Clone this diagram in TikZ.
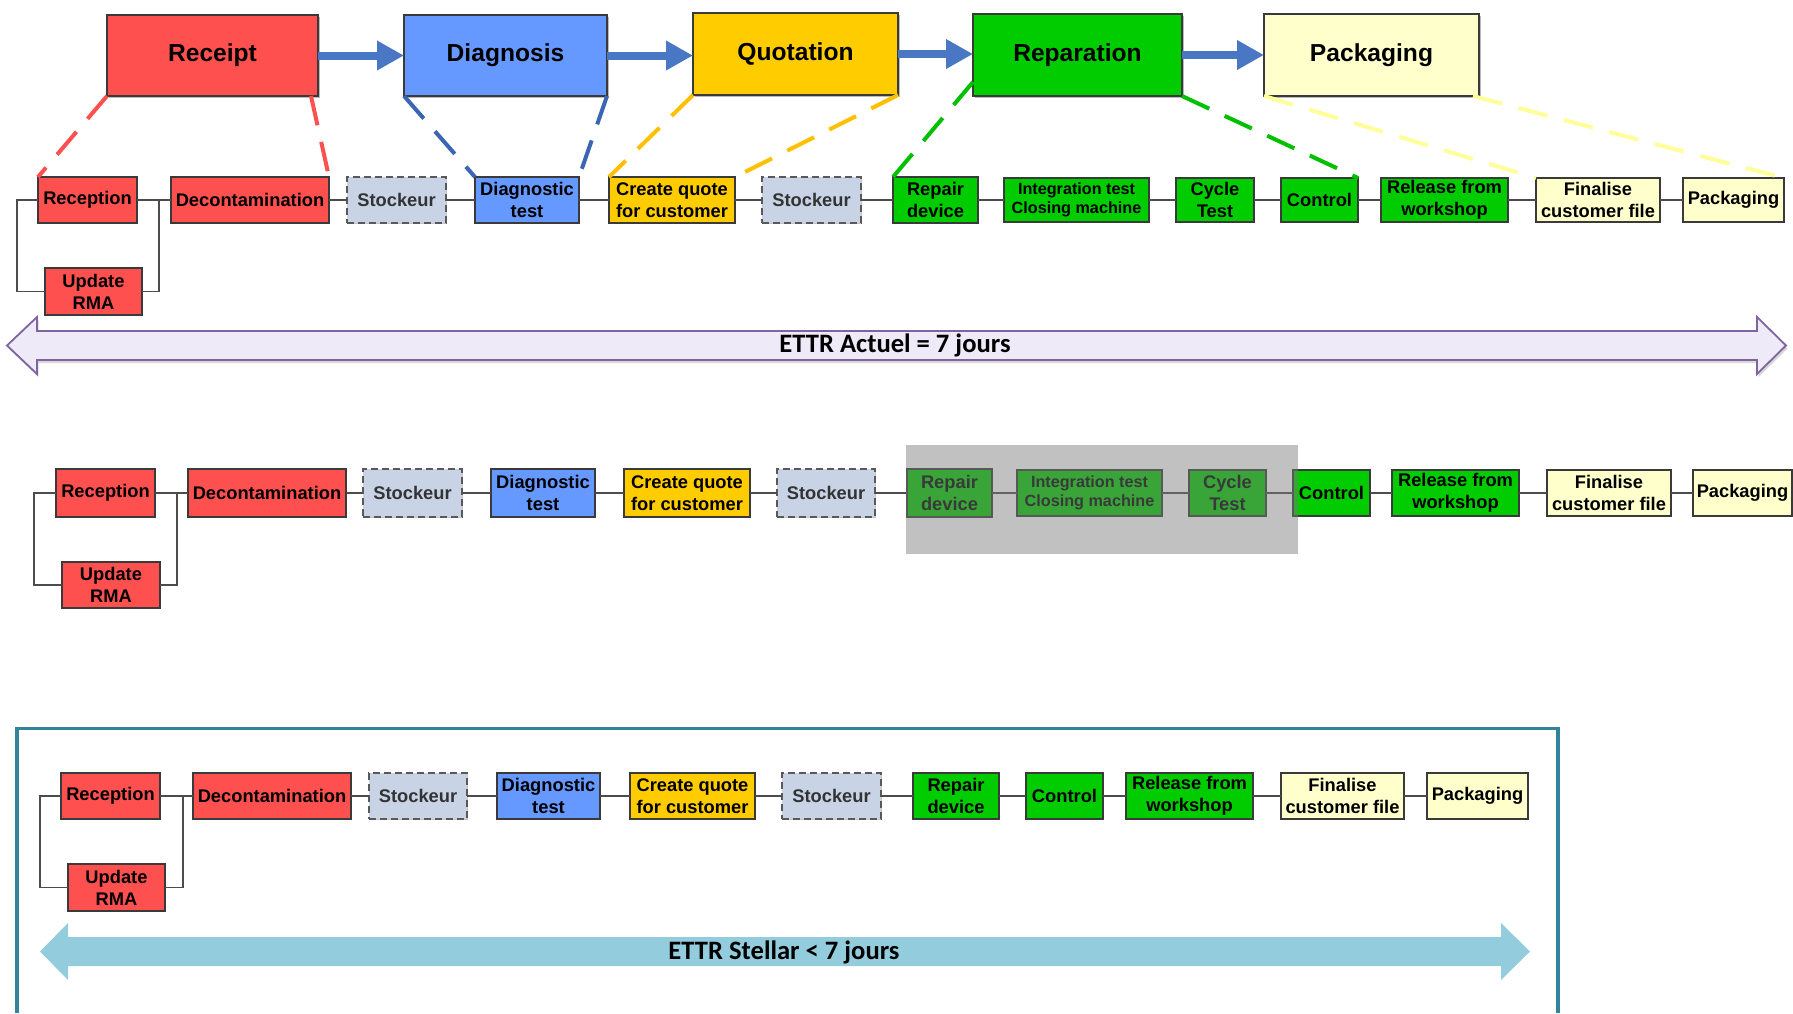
\documentclass[tikz,border=0pt]{standalone}
\usepackage{fontspec}
\setmainfont{Liberation Sans}
\newfontfamily\ettrfont{Carlito}
\usetikzlibrary{arrows.meta,calc,shadows}

\definecolor{cRed}{HTML}{FF5050}
\definecolor{cBlue}{HTML}{6699FF}
\definecolor{cGold}{HTML}{FFCC00}
\definecolor{cGreen}{HTML}{00CC00}
\definecolor{cCream}{HTML}{FFFFCC}
\definecolor{cStock}{HTML}{C8D4E6}
\definecolor{cEdge}{HTML}{3A3A3A}
\definecolor{cArrow}{HTML}{4A77C4}
\definecolor{lRed}{HTML}{FF5050}
\definecolor{lBlue}{HTML}{3A66B4}
\definecolor{lGold}{HTML}{FFC000}
\definecolor{lGreen}{HTML}{00C000}
\definecolor{lCream}{HTML}{FFFF99}
\definecolor{cLav}{HTML}{EFEAF7}
\definecolor{cPurple}{HTML}{8064A2}
\definecolor{cTeal}{HTML}{31849B}
\definecolor{cSky}{HTML}{93CDDD}
\definecolor{cVeil}{HTML}{7B7B7B}

% box given by its left, right, top and bottom edges (y grows downwards)
\newcommand\procbox[7]{%
  \node[#2, minimum width={(#4-#3)*1pt}, minimum height={(#6-#5)*1pt}]
    (#1) at ({(#3+#4)/2},{(#5+#6)/2}) {#7};}

\tikzset{
  phase/.style={draw=cEdge, line width=2pt, inner sep=0pt, outer sep=0pt,
    font=\fontsize{24.6}{28}\selectfont\bfseries,
    drop shadow={shadow xshift=1.5pt, shadow yshift=-1.5pt, fill=black!45, opacity=0.6}},
  task/.style={draw=cEdge, line width=1.6pt, inner sep=0pt, outer sep=0pt, align=center,
    font=\fontsize{18.3}{21.8}\selectfont\bfseries,
    drop shadow={shadow xshift=1.2pt, shadow yshift=-1.2pt, fill=black!45, opacity=0.5}},
  smalltask/.style={task, font=\fontsize{16.2}{19.5}\selectfont\bfseries},
  store/.style={task, fill=cStock, draw=black!65, dash pattern=on 7pt off 4pt, text=black!80},
  link/.style={draw=black!70, line width=1.6pt},
  tie/.style={line width=4pt, dash pattern=on 30pt off 17pt},
  flow/.style={draw=cArrow, line width=8pt, -{Triangle[length=27pt,width=28pt]}},
  ettr/.style={font=\ettrfont\fontsize{26.6}{30}\selectfont\bfseries, inner sep=0pt},
}

\begin{document}
\begin{tikzpicture}[x=1pt, y=-1pt]
\useasboundingbox (0,0) rectangle (1793,1013);

% ---------- phases ----------
\procbox{Receipt}{phase,fill=cRed}{107}{318}{15}{96}{Receipt}
\procbox{Diagnosis}{phase,fill=cBlue}{404}{607}{15}{96}{Diagnosis}
\procbox{Quotation}{phase,fill=cGold}{693}{898}{13}{95}{Quotation}
\procbox{Reparation}{phase,fill=cGreen}{973}{1182}{14}{96}{Reparation}
\procbox{Packaging}{phase,fill=cCream}{1264}{1479}{14}{96}{Packaging}

\draw[flow] (Receipt.east) -- (Diagnosis.west);
\draw[flow] (Diagnosis.east) -- (Quotation.west |- Diagnosis.east);
\draw[flow] (Quotation.east) -- (Reparation.west |- Quotation.east);
\draw[flow] (Reparation.east) -- (Packaging.west);

% ---------- current process ----------
\procbox{R1rec}{task,fill=cRed}{38}{137}{177}{223}{Reception}
\procbox{R1dec}{task,fill=cRed}{171}{329}{177}{223}{Decontamination}
\procbox{R1st1}{store}{347}{446}{177}{223}{Stockeur}
\procbox{R1dia}{task,fill=cBlue}{475}{579}{177}{223}{Diagnostic\\test}
\procbox{R1quo}{task,fill=cGold}{609}{735}{177}{223}{Create quote\\for customer}
\procbox{R1st2}{store}{762}{861}{177}{223}{Stockeur}
\procbox{R1rep}{task,fill=cGreen}{893}{978}{177}{223}{Repair\\device}
\procbox{R1int}{smalltask,fill=cGreen}{1004}{1149}{178}{222}{Integration test\\Closing machine}
\procbox{R1cyc}{task,fill=cGreen}{1176}{1254}{178}{222}{Cycle\\Test}
\procbox{R1con}{task,fill=cGreen}{1281}{1358}{178}{222}{Control}
\procbox{R1rel}{task,fill=cGreen}{1381}{1508}{178}{222}{Release from\\workshop}
\procbox{R1fin}{task,fill=cCream}{1536}{1660}{178}{222}{Finalise\\customer file}
\procbox{R1pac}{task,fill=cCream}{1683}{1784}{178}{222}{Packaging}
\procbox{R1upd}{task,fill=cRed}{45}{142}{268}{315}{Update\\RMA}

\draw[link] (R1rec.west) -- ++(-21,0) |- (R1upd.west);
\draw[link] (R1rec.east) -- (R1dec.west);
\draw[link] (R1upd.east) -| ($(R1dec.west)+(-12,0)$);
\foreach \a/\b in {R1dec/R1st1,R1st1/R1dia,R1dia/R1quo,R1quo/R1st2,R1st2/R1rep,
  R1rep/R1int,R1int/R1cyc,R1cyc/R1con,R1con/R1rel,R1rel/R1fin,R1fin/R1pac}
  \draw[link] (\a.east) -- (\b.west);

% phase-to-task ties
\draw[tie, lRed] (Receipt.south west) -- (R1rec.north west);
\draw[tie, lRed] ($(Receipt.south east)+(-7,0)$) -- (R1dec.north east);
\draw[tie, lBlue] (Diagnosis.south west) -- (R1dia.north west);
\draw[tie, lBlue] (Diagnosis.south east) -- (R1dia.north east);
\draw[tie, lGold] (Quotation.south west) -- (R1quo.north west);
\draw[tie, lGold] (Quotation.south east) -- (R1quo.north east);
\draw[tie, lGreen] ($(Reparation.south west)+(0,-14)$) -- (R1rep.north west);
\draw[tie, lGreen] (Reparation.south east) -- (R1con.north east);
\draw[tie, lCream] (Packaging.south west) -- (R1fin.north west);
\draw[tie, lCream] ($(Packaging.south east)+(-6,0)$) -- (R1pac.north east);

% current lead time
\filldraw[fill=cLav, draw=cPurple, line width=1.8pt,
  drop shadow={shadow xshift=1.5pt, shadow yshift=-3pt, fill=black!30, opacity=0.5}]
  (7,345.5) -- (37,317) -- (37,331) -- (1757,331) -- (1757,317) -- (1786,345.5)
  -- (1757,374) -- (1757,360) -- (37,360) -- (37,374) -- cycle;
\node[ettr] (ettrNow) at (895,345.5) {ETTR Actuel = 7 jours};

% ---------- process with removed steps ----------
\procbox{R2rec}{task,fill=cRed}{56}{155}{469}{517}{Reception}
\procbox{R2dec}{task,fill=cRed}{188}{346}{469}{517}{Decontamination}
\procbox{R2st1}{store}{363}{462}{469}{517}{Stockeur}
\procbox{R2dia}{task,fill=cBlue}{491}{595}{469}{517}{Diagnostic\\test}
\procbox{R2quo}{task,fill=cGold}{624}{750}{469}{517}{Create quote\\for customer}
\procbox{R2st2}{store}{777}{875}{469}{517}{Stockeur}
\procbox{R2rep}{task,fill=cGreen}{907}{992}{469}{517}{Repair\\device}
\procbox{R2int}{smalltask,fill=cGreen}{1017}{1162}{470}{516}{Integration test\\Closing machine}
\procbox{R2cyc}{task,fill=cGreen}{1189}{1266}{470}{516}{Cycle\\Test}
\procbox{R2con}{task,fill=cGreen}{1293}{1370}{470}{516}{Control}
\procbox{R2rel}{task,fill=cGreen}{1392}{1519}{470}{516}{Release from\\workshop}
\procbox{R2fin}{task,fill=cCream}{1547}{1671}{470}{516}{Finalise\\customer file}
\procbox{R2pac}{task,fill=cCream}{1693}{1792}{470}{516}{Packaging}
\procbox{R2upd}{task,fill=cRed}{62}{160}{562}{608}{Update\\RMA}

\draw[link] (R2rec.west) -- ++(-22,0) |- (R2upd.west);
\draw[link] (R2rec.east) -- (R2dec.west);
\draw[link] (R2upd.east) -| ($(R2dec.west)+(-11,0)$);
\foreach \a/\b in {R2dec/R2st1,R2st1/R2dia,R2dia/R2quo,R2quo/R2st2,R2st2/R2rep,
  R2rep/R2int,R2int/R2cyc,R2cyc/R2con,R2con/R2rel,R2rel/R2fin,R2fin/R2pac}
  \draw[link] (\a.east) -- (\b.west);

% steps taken out
\fill[cVeil, fill opacity=0.47] (906,445) rectangle (1298,554);

% ---------- target process ----------
\draw[cTeal, line width=3.5pt] (17,1013) -- (17,728.5) -- (1558,728.5) -- (1558,1013);

\procbox{R3rec}{task,fill=cRed}{61}{160}{773}{819}{Reception}
\procbox{R3dec}{task,fill=cRed}{193}{351}{773}{819}{Decontamination}
\procbox{R3st1}{store}{369}{467}{773}{819}{Stockeur}
\procbox{R3dia}{task,fill=cBlue}{497}{600}{773}{819}{Diagnostic\\test}
\procbox{R3quo}{task,fill=cGold}{630}{755}{773}{819}{Create quote\\for customer}
\procbox{R3st2}{store}{782}{881}{773}{819}{Stockeur}
\procbox{R3rep}{task,fill=cGreen}{913}{999}{773}{819}{Repair\\device}
\procbox{R3con}{task,fill=cGreen}{1026}{1103}{773}{819}{Control}
\procbox{R3rel}{task,fill=cGreen}{1126}{1253}{773}{819}{Release from\\workshop}
\procbox{R3fin}{task,fill=cCream}{1281}{1404}{773}{819}{Finalise\\customer file}
\procbox{R3pac}{task,fill=cCream}{1427}{1528}{773}{819}{Packaging}
\procbox{R3upd}{task,fill=cRed}{68}{165}{864}{911}{Update\\RMA}

\draw[link] (R3rec.west) -- ++(-21,0) |- (R3upd.west);
\draw[link] (R3rec.east) -- (R3dec.west);
\draw[link] (R3upd.east) -| ($(R3dec.west)+(-10,0)$);
\foreach \a/\b in {R3dec/R3st1,R3st1/R3dia,R3dia/R3quo,R3quo/R3st2,R3st2/R3rep,
  R3rep/R3con,R3con/R3rel,R3rel/R3fin,R3fin/R3pac}
  \draw[link] (\a.east) -- (\b.west);

% target lead time
\fill[cSky] (40,951.5) -- (68,923) -- (68,937) -- (1501,937) -- (1501,923) -- (1530,951.5)
  -- (1501,980) -- (1501,966) -- (68,966) -- (68,980) -- cycle;
\node[ettr] (ettrGoal) at (784,952) {ETTR Stellar < 7 jours};
\end{tikzpicture}
\end{document}
